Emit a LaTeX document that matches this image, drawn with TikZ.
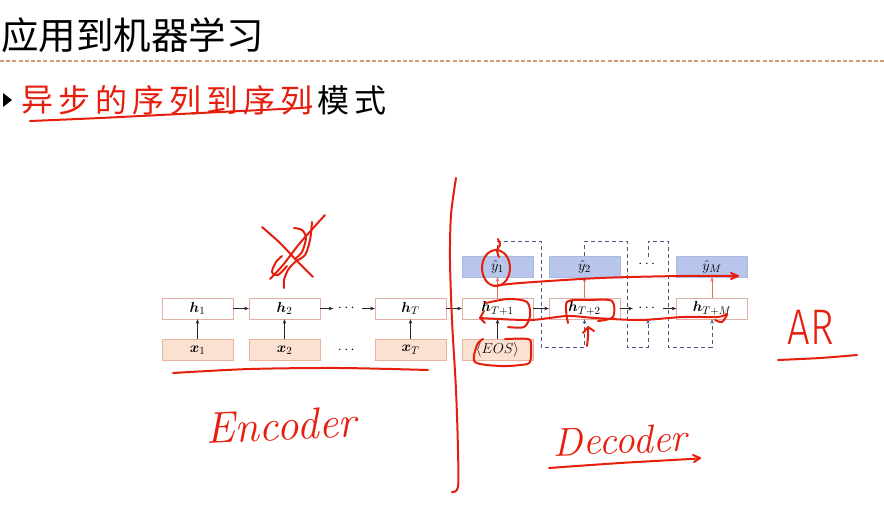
\documentclass[tikz,border=0pt]{standalone}
\usepackage{amsmath,bm}
\usepackage{fontspec}
\newfontfamily\cjkfont{Noto Sans CJK SC}
\newfontfamily\handsans{Fira Sans Light}
\usetikzlibrary{arrows.meta}
\definecolor{hbord}{HTML}{E2AFA6}
\definecolor{xfill}{HTML}{FBE1D2}
\definecolor{xbord}{HTML}{E6B59E}
\definecolor{yfill}{HTML}{B7C6EA}
\definecolor{ybord}{HTML}{A9B9E0}
\definecolor{loopc}{HTML}{4E5688}
\definecolor{pen}{HTML}{E61E0E}
\definecolor{redar}{HTML}{E2705E}
\definecolor{ruleC}{HTML}{D29C74}
\tikzset{
  boxfont/.style={font=\fontsize{15}{17}\selectfont},
  hbox/.style={draw=hbord,fill=white,minimum width=71pt,minimum height=21pt,inner sep=0pt,boxfont},
  xbox/.style={draw=xbord,fill=xfill,minimum width=71pt,minimum height=21pt,inner sep=0pt,boxfont},
  ybox/.style={draw=ybord,fill=yfill,minimum width=71pt,minimum height=21pt,inner sep=0pt,boxfont},
  dotsnode/.style={inner sep=0pt,minimum width=28pt,minimum height=21pt,boxfont},
  blk/.style={draw=black!85,line width=0.7pt,-{Stealth[length=4.5pt,width=3.5pt]}},
  redarrow/.style={draw=redar,line width=0.7pt,-{Stealth[length=4.5pt,width=3.5pt]}},
  dashloop/.style={draw=loopc,line width=0.9pt,dash pattern=on 4pt off 3pt,-{Stealth[length=4.5pt,width=3.5pt]}},
  penline/.style={draw=pen,line width=2pt,line cap=round,line join=round},
}
\begin{document}
\begin{tikzpicture}[x=1pt,y=-1pt]
\useasboundingbox (0,0) rectangle (884,507);
\fill[white] (0,0) rectangle (884,507);
% title
\node[anchor=west,inner sep=0pt,font=\cjkfont\fontsize{37.5}{40}\selectfont] (title) at (1,35) {应用到机器学习};
\draw[ruleC,line width=1.4pt,dash pattern=on 4pt off 2.2pt] (0,61) -- (884,61);
% bullet
\fill[black] (3,93) -- (12,100) -- (3,107) -- cycle;
\foreach \c [count=\i from 0] in {异,步,的,序,列,到,序,列,模,式}{
  \ifnum\i<8
    \node[inner sep=0pt,text=pen,font=\cjkfont\fontsize{32}{34}\selectfont] (s\i) at (37+37*\i,100) {\c};
  \else
    \node[inner sep=0pt,text=black,font=\cjkfont\fontsize{32}{34}\selectfont] (s\i) at (37+37*\i,100) {\c};
  \fi
}
% encoder
\node[hbox] (h1) at (197.5,308.5) {$\bm{h}_1$};
\node[hbox] (h2) at (284.5,308.5) {$\bm{h}_2$};
\node[hbox] (hT) at (410.5,308.5) {$\bm{h}_T$};
\node[xbox] (x1) at (197.5,350) {$\bm{x}_1$};
\node[xbox] (x2) at (284.5,350) {$\bm{x}_2$};
\node[xbox] (xT) at (410.5,350) {$\bm{x}_T$};
\node[dotsnode] (ed) at (347.5,308.5) {$\cdots$};
\node[dotsnode] (exd) at (347.5,350) {$\cdots$};
% decoder
\node[hbox] (hT1) at (497.5,308.5) {$\bm{h}_{T+1}$};
\node[hbox] (hT2) at (584.5,308.5) {$\bm{h}_{T+2}$};
\node[hbox] (hTM) at (712,308.5) {$\bm{h}_{T+M}$};
\node[ybox] (y1) at (497.5,266.5) {$\hat{y}_1$};
\node[ybox] (y2) at (584.5,266.5) {$\hat{y}_2$};
\node[ybox] (yM) at (712,266.5) {$\hat{y}_M$};
\node[xbox] (eos) at (497.5,350) {$\langle EOS\rangle$};
\node[dotsnode,minimum width=30pt] (dd) at (648,308.5) {$\cdots$};
\node[dotsnode,minimum height=14pt] (yd) at (648,264) {$\cdots$};
\coordinate (topc) at (0,241);
\coordinate (botc) at (0,347);
% arrows
\draw[blk] (h1) -- (h2);
\draw[blk] (h2) -- (ed);
\draw[blk] (ed) -- (hT);
\draw[blk] (hT) -- (hT1);
\draw[blk] (hT1) -- (hT2);
\draw[blk] (hT2) -- (dd);
\draw[blk] (dd) -- (hTM);
\draw[blk] (x1) -- (h1);
\draw[blk] (x2) -- (h2);
\draw[blk] (xT) -- (hT);
\draw[blk] (eos) -- (hT1);
\draw[redarrow] (hT1) -- (y1);
\draw[redarrow] (hT2) -- (y2);
\draw[redarrow] (hTM) -- (yM);
\draw[dashloop] (y1.north) |- (541,241) |- (hT2.south |- botc) -- (hT2.south);
\draw[dashloop] (y2.north) |- (627,241) |- (dd.south |- botc) -- (dd.south);
\draw[dashloop] (yd.north) |- (668,241) |- (hTM.south |- botc) -- (hTM.south);
% ---- handwriting overlay ----
% subtitle underline
\draw[penline] plot[smooth] coordinates {(30,121) (100,118) (200,113) (300,108) (311,106)};
% big vertical separator
\draw[penline] plot[smooth] coordinates {(456,178) (451,215) (450,260) (452,320) (456,390) (458,450) (458,487) (452,492)};
% crossed y
\draw[penline] plot[smooth] coordinates {(262,227) (280,243) (298,262) (313,277)};
\draw[penline] plot[smooth] coordinates {(325,215) (300,243) (283,265) (270,279)};
\draw[penline] plot[smooth] coordinates {(294,228) (302,230) (306,238) (302,252) (296,258)};
\draw[penline] plot[smooth] coordinates {(312,222) (310,240) (305,255) (295,262) (288,270) (284,280) (284,288)};
\draw[penline] plot[smooth] coordinates {(282,256) (276,262) (272,272) (278,275) (287,266)};
% encoder underline
\draw[penline] plot[smooth] coordinates {(173,373) (250,369) (340,368) (428,370)};
% circle around y1 and long arrow to yM
\draw[penline] plot[smooth] coordinates {(498,239) (500,245) (497,250) (499,257)};
\draw[penline] (496,268) ellipse [x radius=14pt, y radius=18pt];
\draw[penline] plot[smooth] coordinates {(494,286) (520,283) (600,278) (680,276) (737,276)};
\draw[penline] (731,273) -- (738,276) -- (731,279);
% scribble around h_{T+1}
\draw[penline] plot[smooth] coordinates {(486,303) (508,299) (527,302) (530,316) (524,327) (508,327)};
\draw[penline] (484,311) -- (480,318) -- (485,323);
\draw[penline] plot[smooth] coordinates {(480,318) (530,320) (567,316) (595,318) (640,320) (683,317) (718,317) (727,314) (722,322) (715,320)};
% scribble around h_{T+2}
\draw[penline] plot[smooth] coordinates {(568,323) (567,302) (590,300) (612,301) (613,317) (598,321)};
% up arrow under h_{T+2}
\draw[penline] plot[smooth] coordinates {(587,346) (588,336) (588,327)};
\draw[penline] (583,333) -- (588,327) -- (594,331);
% scribble around EOS
\draw[penline] plot[smooth] coordinates {(483,339) (477,345) (475,362) (500,366) (520,365) (530,362) (531,345) (528,339) (505,339)};
% Encoder / Decoder / AR labels
\node[inner sep=0pt,text=pen,font=\fontsize{44}{48}\selectfont\itshape,rotate=3] (enc) at (281,425) {Encoder};
\node[inner sep=0pt,text=pen,font=\fontsize{40}{44}\selectfont\itshape,rotate=2] (dec) at (620,440) {Decoder};
\draw[penline] plot[smooth] coordinates {(549,468) (620,463) (690,459) (700,458)};
\draw[penline] (693,455) -- (700,458) -- (694,462);
\node[inner sep=0pt,text=pen,font=\handsans\fontsize{50}{54}\selectfont,xscale=0.8] (ar) at (811,327) {AR};
\draw[penline] plot[smooth] coordinates {(778,360) (820,358) (857,355)};
\end{tikzpicture}
\end{document}
